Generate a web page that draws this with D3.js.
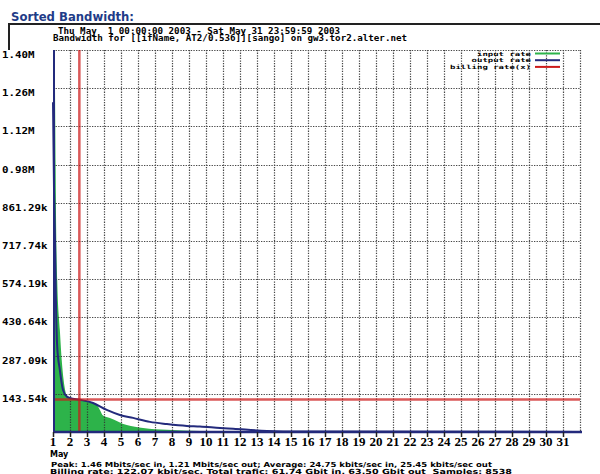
<!DOCTYPE html>
<html><head><meta charset="utf-8">
<script src="https://cdn.jsdelivr.net/npm/d3@7"></script>
<style>body{margin:0;background:#fff}svg{display:block}text{white-space:pre}</style>
</head><body><svg id="c" width="600" height="474"></svg>
<script>
// ---- data ----
const yTickValues = [143.54, 287.09, 430.64, 574.19, 717.74, 861.29, 1004.78, 1148.32, 1291.86, 1435.4];
const yTickLabels = ["143.54k","287.09k","430.64k","574.19k","717.74k","861.29k","0.98M","1.12M","1.26M","1.40M"];
const dayLabels = ["1","2","3","4","5","6","7","8","9","10","11","12","13","14","15","16","17","18","19","20","21","22","23","24","25","26","27","28","29","30","31"];
// sorted input rate (kbit/s) vs percentile of samples
const inPct = [0, 0.3, 0.5, 0.6, 0.8, 1.3, 1.7, 2.3, 2.7, 5.1, 7.6, 8.4, 8.9, 9.5, 10.8, 14, 17.1, 21.6, 27.9, 35.5, 60, 100];
const inVal = [1495, 1420, 1000, 760, 570, 383, 259, 158, 132, 121, 110, 100, 83, 62, 53, 26, 15, 8, 4, 2, 1, 0.5];
// sorted output rate (kbit/s)
const outPct = [0, 0.2, 0.4, 0.5, 0.8, 1.3, 1.9, 2.7, 3.2, 5.1, 7.6, 10.2, 12.7, 15.2, 18.4, 21.6, 25.4, 27.9, 31.7, 34.2, 40.6, 46.9, 100];
const outVal = [1239, 900, 700, 560, 320, 233, 158, 132, 128, 121, 109, 83, 64, 53, 38, 30, 23, 21, 15, 12, 4, 1.5, 0.3];
const billingPct = 5;
const billingRate = 122.07;
const legendLabels = ["input rate", "output rate", "billing rate(x)"];
const headerLines = ["Thu May  1 00:00:00 2003 - Sat May 31 23:59:59 2003",
  "Bandwidth for [[ifName, AT2/0.536]][sango] on gw3.tor2.alter.net"];
const footerLines = ["Peak: 1.46 Mbits/sec in, 1.21 Mbits/sec out; Average: 24.75 kbits/sec in, 25.45 kbits/sec out",
  "Billing rate: 122.07 kbit/sec, Total trafic: 61.74 Gbit in, 63.50 Gbit out  Samples: 8538"];

// ---- layout ----
const svg = d3.select("#c");
const L = 53, R = 580, T = 50, B = 432;
const x = d3.scaleLinear().domain([0, 100]).range([L, R]);
const xd = d3.scaleLinear().domain([1, 32]).range([L, R]);
const y = d3.scaleLinear().domain([0, 1435.4]).range([B, T]);
const GREEN = "#2db34a", NAVY = "#232a7c", RED = "#cc1a1a";
const mono = "'DejaVu Sans Mono', monospace";
const sans = "'DejaVu Sans', sans-serif";

svg.append("rect").attr("width", 600).attr("height", 474).attr("fill", "#fff");

// title & frame
svg.append("text").attr("x", 11).attr("y", 21).text("Sorted Bandwidth:")
  .attr("font-family", sans).attr("font-weight", "bold").attr("font-size", 13)
  .attr("fill", "#1f3c88").attr("textLength", 123).attr("lengthAdjust", "spacingAndGlyphs");
svg.append("path").attr("d", "M9,50V24H600").attr("fill", "none").attr("stroke", "#222").attr("stroke-width", 2);

// header
svg.append("text").attr("x", 58).attr("y", 33.5).text(headerLines[0])
  .attr("font-family", mono).attr("font-weight", "bold").attr("font-size", 8)
  .attr("textLength", 282).attr("lengthAdjust", "spacingAndGlyphs");
svg.append("text").attr("x", 53).attr("y", 41).text(headerLines[1])
  .attr("font-family", mono).attr("font-weight", "bold").attr("font-size", 8)
  .attr("textLength", 354).attr("lengthAdjust", "spacingAndGlyphs");

// clip
svg.append("clipPath").attr("id", "pc").append("rect")
  .attr("x", L - 1).attr("y", T).attr("width", R - L + 2).attr("height", B - T);

// input area
const area = d3.area().x((d, i) => x(inPct[i])).y0(B).y1((d) => y(d)).curve(d3.curveMonotoneX);
svg.append("path").datum(inVal).attr("clip-path", "url(#pc)")
  .attr("d", area).attr("fill", GREEN);

// grid
const grid = svg.append("g").attr("stroke", "#333").attr("stroke-width", 1.2)
  .attr("stroke-dasharray", "1.3,1.3").attr("opacity", 0.9);
grid.selectAll("line.h").data(yTickValues).join("line")
  .attr("x1", L).attr("x2", R).attr("y1", d => Math.round(y(d)) + 0.5).attr("y2", d => Math.round(y(d)) + 0.5);
grid.selectAll("line.v").data(dayLabels.slice(1).map(Number).concat([32])).join("line")
  .attr("y1", T).attr("y2", B).attr("x1", d => Math.round(xd(d)) + 0.5).attr("x2", d => Math.round(xd(d)) + 0.5);

// output line
const line = d3.line().x((d, i) => x(outPct[i])).y(d => y(d)).curve(d3.curveMonotoneX);
svg.append("path").datum(outVal).attr("clip-path", "url(#pc)")
  .attr("d", line).attr("fill", "none").attr("stroke", NAVY).attr("stroke-width", 2);

// billing lines
svg.append("line").attr("x1", x(billingPct)).attr("x2", x(billingPct)).attr("y1", T).attr("y2", B)
  .attr("stroke", RED).attr("stroke-width", 2.5).attr("opacity", 0.72);
svg.append("line").attr("x1", L).attr("x2", R).attr("y1", y(billingRate)).attr("y2", y(billingRate))
  .attr("stroke", RED).attr("stroke-width", 2.5).attr("opacity", 0.72);

// axes
svg.append("line").attr("x1", L + 1).attr("x2", L + 1).attr("y1", T).attr("y2", B)
  .attr("stroke", NAVY).attr("stroke-width", 2);
const xAxis = d3.axisBottom(xd).tickValues(dayLabels.map(Number)).tickSize(5).tickFormat("");
const xg = svg.append("g").attr("transform", `translate(0,${B})`).call(xAxis);
xg.select(".domain").attr("d", `M${L},0H${R + 2}`).attr("stroke", NAVY).attr("stroke-width", 2.5);
xg.selectAll(".tick line").attr("stroke", "#222").attr("stroke-width", 1.5);
svg.append("g").selectAll("text").data(dayLabels).join("text")
  .attr("x", d => xd(+d)).attr("y", 446).attr("text-anchor", "middle").text(d => d)
  .attr("font-family", "'Liberation Serif', serif").attr("font-weight", "bold").attr("font-size", 13);
svg.append("text").attr("x", 50).attr("y", 457).text("May")
  .attr("font-family", sans).attr("font-weight", "bold").attr("font-size", 8);

// y labels
svg.append("g").selectAll("text").data(yTickValues).join("text")
  .attr("x", 2).attr("y", d => Math.round(y(d)) + 8).text((d, i) => yTickLabels[i])
  .attr("font-family", mono).attr("font-weight", "bold").attr("font-size", 9.5)
  .attr("textLength", (d, i) => yTickLabels[i].length * 6.5).attr("lengthAdjust", "spacingAndGlyphs");

// legend
const legColors = [GREEN, NAVY, RED];
const lg = svg.append("g");
legendLabels.forEach((t, i) => {
  const by = 55.5 + i * 6.7;
  lg.append("text").attr("x", 531).attr("y", by).attr("text-anchor", "end").text(t)
    .attr("font-family", mono).attr("font-weight", "bold").attr("font-size", 5.7)
    .attr("textLength", t.length * 5.4).attr("lengthAdjust", "spacingAndGlyphs");
  lg.append("line").attr("x1", 535).attr("x2", 560).attr("y1", by - 2).attr("y2", by - 2)
    .attr("stroke", legColors[i]).attr("stroke-width", 2);
});

// footer
svg.append("text").attr("x", 51).attr("y", 466.5).text(footerLines[0])
  .attr("font-family", sans).attr("font-weight", "bold").attr("font-size", 7)
  .attr("textLength", 441).attr("lengthAdjust", "spacingAndGlyphs");
svg.append("text").attr("x", 50).attr("y", 473.5).text(footerLines[1])
  .attr("font-family", sans).attr("font-weight", "bold").attr("font-size", 7)
  .attr("textLength", 462).attr("lengthAdjust", "spacingAndGlyphs");
</script></body></html>
